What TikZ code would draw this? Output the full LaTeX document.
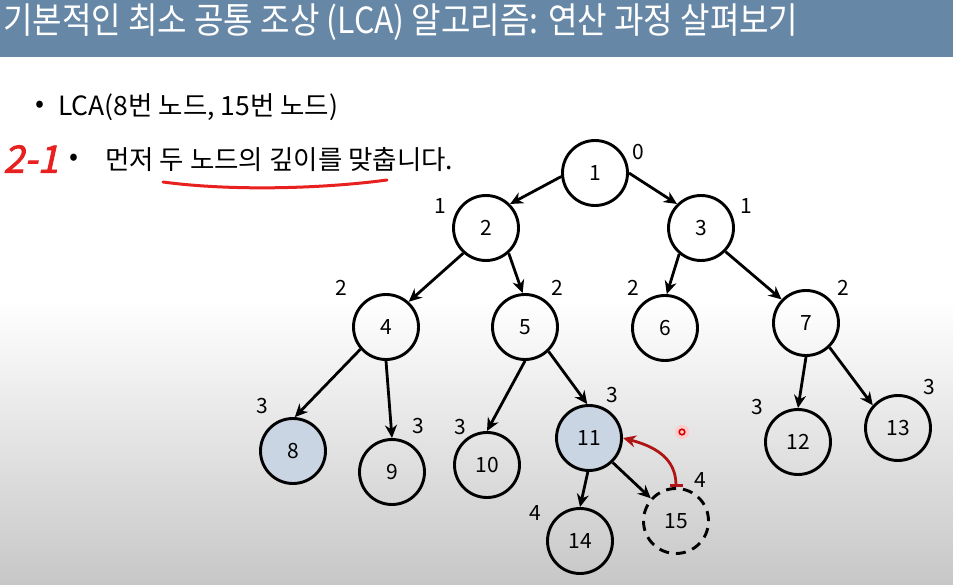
\documentclass[tikz,border=0pt]{standalone}
\usepackage{fontspec}
\setmainfont{Noto Sans CJK KR}
\newfontfamily\titlefont[FakeStretch=0.89]{Noto Sans CJK KR}
\newfontfamily\handfont[FakeSlant=0.22,FakeBold=2]{Noto Sans CJK KR}
\usepackage{tikz}
\usetikzlibrary{arrows.meta}
\definecolor{titlebar}{HTML}{6787A6}
\definecolor{pickedfill}{HTML}{C9D5E3}
\definecolor{backred}{HTML}{B01515}
\definecolor{penred}{HTML}{E82020}
\tikzstyle{treenode} = [circle, draw=black, line width=2.9pt, minimum size=65pt,
           inner sep=0pt, font=\fontsize{21}{24}\selectfont]
\tikzstyle{picked} = [treenode, fill=pickedfill]
\tikzstyle{ghost} = [treenode, dash pattern=on 10pt off 7pt]
\tikzstyle{depth} = [inner sep=0pt, font=\fontsize{21}{24}\selectfont]
\tikzstyle{arrow} = [line width=2.8pt, -{Stealth[length=13pt,width=12pt]}]
\tikzstyle{backarrow} = [line width=2.8pt, draw=backred,
           {Bar[width=13pt,line width=2.6pt]}-{Stealth[length=13pt,width=12pt]}]
\tikzstyle{bodytext} = [anchor=west, inner sep=0pt, font=\fontsize{26.5}{30}\selectfont]

\begin{document}
\begin{tikzpicture}[x=1pt, y=-1pt]
\useasboundingbox (0,0) rectangle (953,585);
% background
\fill[white] (0,0) rectangle (953,585);
\shade[top color=white, bottom color=black!22] (0,300) rectangle (953,585);
\fill[titlebar] (0,0) rectangle (953,57);
\node (title) [anchor=west, inner sep=0pt, text=white,
   font=\titlefont\fontsize{36}{40}\selectfont] at (3,22)
   {기본적인 최소 공통 조상 (LCA) 알고리즘: 연산 과정 살펴보기};
% bullets
\node (bullet1) [bodytext] at (35,107) {•};
\node (line1) [bodytext] at (58,107) {LCA(8번 노드, 15번 노드)};
\node (step) [anchor=west, inner sep=0pt, text=penred,
   font=\handfont\fontsize{38}{42}\selectfont] at (3,159) {2-1};
\node (bullet2) [bodytext] at (69,160) {•};
\node (line2) [bodytext] at (105,160) {먼저 두 노드의 깊이를 맞춥니다.};
\draw[penred, line width=3pt, line cap=round]
   (163,182) .. controls (230,191) and (320,189) .. (387,180);
% tree
\node (n1) [treenode] at (595,173) {1};
\node (n2) [treenode] at (486,228) {2};
\node (n3) [treenode] at (701,228) {3};
\node (n4) [treenode] at (386,327) {4};
\node (n5) [treenode] at (525,327) {5};
\node (n6) [treenode] at (665,328) {6};
\node (n7) [treenode] at (806,323) {7};
\node (n8) [picked] at (293,451) {8};
\node (n9) [treenode] at (392,472) {9};
\node (n10) [treenode] at (487,465) {10};
\node (n11) [picked] at (589,438) {11};
\node (n12) [treenode] at (798,442) {12};
\node (n13) [treenode] at (898,428) {13};
\node (n14) [treenode] at (580,541) {14};
\node (n15) [ghost] at (676,521) {15};
% depths
\node (dep1) [depth] at (638,152) {0};
\node (dep2) [depth] at (440,206) {1};
\node (dep3) [depth] at (746,206) {1};
\node (dep4) [depth] at (341,288) {2};
\node (dep5) [depth] at (557,288) {2};
\node (dep6) [depth] at (633,288) {2};
\node (dep7) [depth] at (843,288) {2};
\node (dep8) [depth] at (262,406) {3};
\node (dep9) [depth] at (418,426) {3};
\node (dep10) [depth] at (460,427) {3};
\node (dep11) [depth] at (612,395) {3};
\node (dep12) [depth] at (757,407) {3};
\node (dep13) [depth] at (929,387) {3};
\node (dep14) [depth] at (535,513) {4};
\node (dep15) [depth] at (700,480) {4};
\draw [arrow] (n1.186) -- (n2.45);
\draw [arrow] (n1.0) -- (n3.135);
\draw [arrow] (n2.228) -- (n4.48);
\draw [arrow] (n2.312) -- (n5.94);
\draw [arrow] (n3.230) -- (n6.87);
\draw [arrow] (n3.316) -- (n7.136);
\draw [arrow] (n4.221) -- (n8.87);
\draw [arrow] (n4.270) -- (n9.90);
\draw [arrow] (n5.270) -- (n10.90);
\draw [arrow] (n5.314) -- (n11.93);
\draw [arrow] (n7.270) -- (n12.90);
\draw [arrow] (n7.314) -- (n13.138);
\draw [arrow] (n11.268) -- (n14.90);
\draw [arrow] (n11.314) -- (n15.138);
\draw [backarrow] (n15.north) .. controls +(0,-30) and +(30,8) .. (n11.east);
% pointer
\fill[red!20] (682,432) circle (7);
\draw[red!85!black, line width=1.6pt] (682,432) circle (2.8);
\end{tikzpicture}
\end{document}
